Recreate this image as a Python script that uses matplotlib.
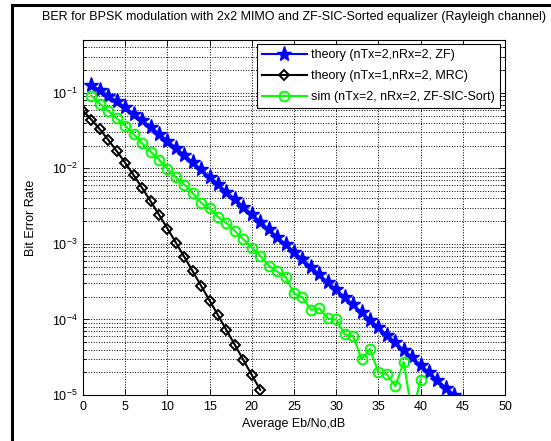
import numpy as np
import matplotlib
matplotlib.use('Agg')
import matplotlib.pyplot as plt
from matplotlib.ticker import LogLocator, NullFormatter
from matplotlib.lines import Line2D

# Eb/No axis values (dB)
ebno_zf = list(range(1, 45))
ebno_mrc = list(range(0, 22))
ebno_sim = list(range(1, 41))

# theory (nTx=2,nRx=2, ZF)
ber_zf = [0.1267, 0.1085, 0.0919, 0.0771, 0.0642, 0.0530, 0.0435, 0.0355, 0.0288, 0.02327,
          0.01875, 0.01506, 0.01208, 0.009663, 0.007722, 0.006163, 0.004915, 0.003916, 0.003118, 0.002481,
          0.001974, 0.001570, 0.001248, 0.000992, 0.000789, 0.000627, 0.000498, 0.000396, 0.000314, 0.000250,
          0.000198, 0.000158, 0.000125, 9.95e-5, 7.90e-5, 6.28e-5, 4.99e-5, 3.96e-5, 3.15e-5, 2.50e-5,
          1.99e-5, 1.58e-5, 1.25e-5, 1.0e-5]

# theory (nTx=1,nRx=2, MRC)
ber_mrc = [0.05806, 0.04409, 0.03276, 0.02379, 0.01692, 0.01184, 0.00813, 0.00551, 0.00369, 0.00244,
           0.001599, 0.001042, 0.000674, 0.000434, 0.000278, 0.000178, 0.0001135, 7.22e-5, 4.59e-5, 2.91e-5,
           1.84e-5, 1.17e-5]

# sim (nTx=2, nRx=2, ZF-SIC-Sort)
ber_sim = [0.0914, 0.0716, 0.0574, 0.0459, 0.0368, 0.0283, 0.0215, 0.0167, 0.0130, 0.0099,
           0.0076, 0.0061, 0.00469, 0.00349, 0.00295, 0.00227, 0.00189, 0.00148, 0.00115, 0.000894,
           0.000695, 0.000514, 0.000432, 0.000368, 0.000222, 0.000196, 0.000134, 0.000140, 0.000103, 0.000100,
           6.35e-5, 6.07e-5, 2.98e-5, 4.07e-5, 2.0e-5, 1.89e-5, 1.31e-5, 2.74e-5, 5.5e-6, 1.60e-5]

legend_labels = ['theory (nTx=2,nRx=2, ZF)', 'theory (nTx=1,nRx=2, MRC)', 'sim (nTx=2, nRx=2, ZF-SIC-Sort)']

plt.rcParams['font.family'] = ['Liberation Sans', 'DejaVu Sans']
plt.rcParams['mathtext.fontset'] = 'custom'
plt.rcParams['mathtext.rm'] = 'Liberation Sans'
plt.rcParams['mathtext.it'] = 'Liberation Sans:italic'

fig = plt.figure(figsize=(5.51, 4.41), dpi=100)
ax = fig.add_axes([83 / 551, 1 - 395 / 441, 422 / 551, 355 / 441])

ax.semilogy(ebno_zf, ber_zf, '-', color='#0000ff', lw=1.5, marker='*', ms=11,
            mfc='#0000ff', mec='#0000ff', label=legend_labels[0])
ax.semilogy(ebno_mrc, ber_mrc, '-', color='black', lw=1.5, marker='D', ms=5.2,
            mfc='none', mec='black', mew=1.4, label=legend_labels[1])
ax.semilogy(ebno_sim, ber_sim, '-', color='#00ff00', lw=1.5, marker='o', ms=7,
            mfc='none', mec='#00ff00', mew=1.4, label=legend_labels[2])

ax.set_xlim(0, 50)
ax.set_ylim(1e-5, 0.5)
ax.set_xticks(np.arange(0, 51, 5))
ax.yaxis.set_major_locator(LogLocator(base=10, numticks=10))
ax.yaxis.set_minor_locator(LogLocator(base=10, subs=np.arange(2, 10), numticks=20))
ax.yaxis.set_minor_formatter(NullFormatter())

ax.grid(True, which='major', color='black', linestyle=':', lw=0.7)
ax.grid(True, which='minor', axis='y', color='black', linestyle=':', lw=0.7)
ax.tick_params(which='both', direction='in', top=True, right=True, labelsize=9, width=0.6)
ax.tick_params(which='major', length=4, pad=4)
ax.tick_params(which='minor', length=2)
for sp in ax.spines.values():
    sp.set_linewidth(0.8)

ax.set_title('BER for BPSK modulation with 2x2 MIMO and ZF-SIC-Sorted equalizer (Rayleigh channel)',
             fontsize=9, pad=14.5)
ax.set_xlabel('Average Eb/No,dB', fontsize=9, labelpad=4)
ax.set_ylabel('Bit Error Rate', fontsize=9, labelpad=10.5)

leg = ax.legend(loc='upper right', bbox_to_anchor=(0.988, 0.988), borderaxespad=0,
                fontsize=9, fancybox=False, framealpha=1, edgecolor='black',
                handlelength=3.6, handletextpad=0.35, labelspacing=0.72, borderpad=0.4)
leg.get_frame().set_linewidth(0.8)

# window border (left and top)
fig.add_artist(Line2D([12 / 551, 12 / 551], [0, 1 - 5 / 441], transform=fig.transFigure,
                      color='black', lw=2.2))
fig.add_artist(Line2D([12 / 551, 1], [1 - 5 / 441, 1 - 5 / 441], transform=fig.transFigure,
                      color='black', lw=2.2))

fig.savefig('out.png', dpi=100)
